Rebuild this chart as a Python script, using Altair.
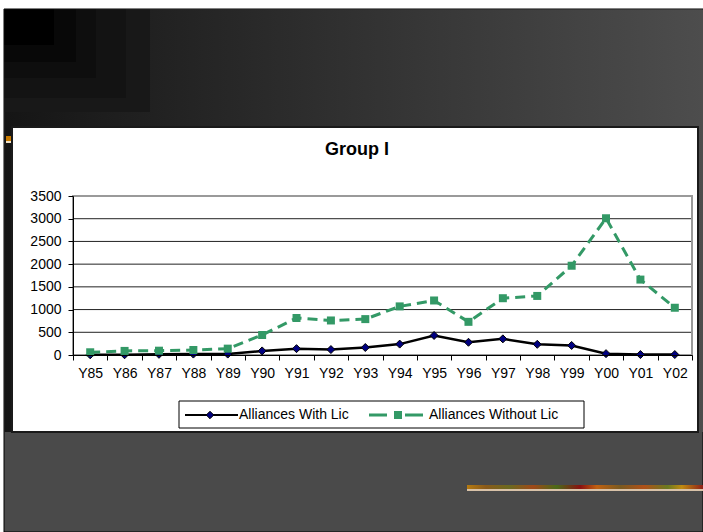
import altair as alt
import pandas as pd

# ---- data -------------------------------------------------------------
years = ["Y85", "Y86", "Y87", "Y88", "Y89", "Y90", "Y91", "Y92", "Y93",
         "Y94", "Y95", "Y96", "Y97", "Y98", "Y99", "Y00", "Y01", "Y02"]
with_lic = [5, 5, 15, 20, 20, 90, 140, 120, 165, 240, 430, 280, 355, 235,
            210, 30, 10, 10]
without_lic = [60, 90, 95, 110, 140, 440, 815, 760, 790, 1070, 1200, 730,
               1250, 1300, 1965, 3010, 1660, 1040]
y_ticks = [0, 500, 1000, 1500, 2000, 2500, 3000, 3500]
series_names = ["Alliances With Lic", "Alliances Without Lic"]

df_with = pd.DataFrame({"year": years, "value": with_lic})
df_without = pd.DataFrame({"year": years, "value": without_lic})
df_grid = pd.DataFrame({"value": y_ticks[1:]})

# ---- layout (page pixels) ---------------------------------------------
X0, Y0 = 73, 196          # top-left corner of the plot area
W, H = 619, 159           # plot area size
PAGE_W, PAGE_H = 703, 532
FONT = "Liberation Sans"


def px(x):
    return x - X0


def py(y):
    return y - Y0


one = pd.DataFrame({"k": [0]})


def box(x1, y1, x2, y2, **kw):
    return alt.Chart(one).mark_rect(**kw).encode(
        x=alt.value(px(x1)), x2=alt.value(px(x2)),
        y=alt.value(py(y1)), y2=alt.value(py(y2)),
    )


def hgrad(stops):
    return alt.LinearGradient(
        gradient="linear",
        stops=[alt.GradientStop(offset=o, color=c) for o, c in stops],
        x1=0, x2=1, y1=0, y2=0,
    )


# ---- slide background ---------------------------------------------------
bg = box(4, 9, PAGE_W, PAGE_H, fill="#4a4a4a", stroke="#000000", strokeWidth=1)
bg_top = box(4.5, 9.5, PAGE_W, 432,
             fill=hgrad([(0, "#151515"), (0.5, "#313131"), (1, "#4d4d4d")]))
squares = [
    box(4.5, 9.5, 150, 112, fill="#181818"),
    box(4.5, 9.5, 126, 98, fill="#131313"),
    box(4.5, 9.5, 96, 78, fill="#0e0e0e"),
    box(4.5, 9.5, 76, 62, fill="#080808"),
    box(4.5, 9.5, 54, 45, fill="#000000"),
]
accent = box(6, 136, 12, 141, fill="#c87a00")
accent_line = box(6, 141, 12, 143, fill="#f2e4c8")
strip = box(467, 485, PAGE_W, 489, fill=hgrad([
    (0.00, "#b57a10"), (0.08, "#8a5a1a"), (0.18, "#6b6a20"),
    (0.28, "#a04818"), (0.38, "#4a6a18"), (0.48, "#8a1010"),
    (0.55, "#c06010"), (0.65, "#7a5a20"), (0.75, "#b05018"),
    (0.85, "#6a7a20"), (0.91, "#c08a10"), (1.00, "#902018"),
]))
strip_line = box(467, 489, PAGE_W, 491, fill="#d8c2a8")

# ---- chart panel ----------------------------------------------------------
panel = box(12, 127, 698, 432, fill="white", stroke="#1a1a1a", strokeWidth=2)

title = alt.Chart(one).mark_text(
    text="Group I", font=FONT, fontSize=18, fontWeight="bold",
    align="center", baseline="alphabetic", color="black",
).encode(x=alt.value(px(357)), y=alt.value(py(155)))

# ---- scales / axes --------------------------------------------------------
x_enc = alt.X(
    "year:N", sort=years, bandPosition=0.5,
    scale=alt.Scale(type="band", domain=years, paddingInner=0, paddingOuter=0),
    axis=alt.Axis(
        title=None, labelAngle=0, tickBand="extent", tickSize=5,
        tickColor="black", domainColor="black", grid=False,
        labelFont=FONT, labelFontSize=14, labelColor="black",
        labelPadding=6, labelOverlap=False, zindex=1,
    ),
)
y_enc = alt.Y(
    "value:Q",
    scale=alt.Scale(domain=[0, 3500], nice=False, zero=True),
    axis=alt.Axis(
        title=None, values=y_ticks, grid=False, tickSize=5,
        tickColor="black", domainColor="black", format="d",
        labelFont=FONT, labelFontSize=14, labelColor="black",
        labelPadding=7, zindex=1,
    ),
)

grid = alt.Chart(df_grid).mark_rule(color="#222222", strokeWidth=1).encode(
    y=y_enc, x=alt.value(0), x2=alt.value("width"),
)
frame = alt.Chart(one).mark_rect(
    fillOpacity=0, stroke="#9a9a9a", strokeWidth=2,
).encode(x=alt.value(0), x2=alt.value("width"),
         y=alt.value(0), y2=alt.value("height"))

GREEN = "#339966"
NAVY = "#000080"

line_with = alt.Chart(df_with).mark_line(
    color="black", strokeWidth=2.5,
).encode(x=x_enc, y=y_enc)
pts_with = alt.Chart(df_with).mark_point(
    shape="diamond", filled=True, size=64, fill=NAVY, stroke="black",
    strokeWidth=1, opacity=1,
).encode(x=x_enc, y=y_enc)

line_without = alt.Chart(df_without).mark_line(
    color=GREEN, strokeWidth=3, strokeDash=[10, 6], strokeCap="butt",
).encode(x=x_enc, y=y_enc)
pts_without = alt.Chart(df_without).mark_point(
    shape="square", filled=True, size=64, fill=GREEN, stroke=GREEN,
    strokeWidth=0, opacity=1,
).encode(x=x_enc, y=y_enc)

# ---- legend ---------------------------------------------------------------
LEG_Y = 415
legend_box = box(179, 401, 584, 428, fill="white", stroke="black", strokeWidth=1)
leg_line1 = alt.Chart(one).mark_rule(color="black", strokeWidth=2).encode(
    x=alt.value(px(185)), x2=alt.value(px(238)), y=alt.value(py(LEG_Y)))
leg_pt1 = alt.Chart(one).mark_point(
    shape="diamond", filled=True, size=56, fill=NAVY, stroke="black",
    strokeWidth=1, opacity=1,
).encode(x=alt.value(px(210)), y=alt.value(py(LEG_Y)))
leg_line2 = alt.Chart(one).mark_rule(
    color=GREEN, strokeWidth=3, strokeDash=[18, 18], strokeCap="butt",
).encode(x=alt.value(px(369)), x2=alt.value(px(425)), y=alt.value(py(LEG_Y)))
leg_pt2 = alt.Chart(one).mark_point(
    shape="square", filled=True, size=64, fill=GREEN, strokeWidth=0, opacity=1,
).encode(x=alt.value(px(398)), y=alt.value(py(LEG_Y)))
leg_txt1 = alt.Chart(one).mark_text(
    text=series_names[0], font=FONT, fontSize=14, align="left",
    baseline="middle", color="black",
).encode(x=alt.value(px(239)), y=alt.value(py(LEG_Y)))
leg_txt2 = alt.Chart(one).mark_text(
    text=series_names[1], font=FONT, fontSize=14, align="left",
    baseline="middle", color="black",
).encode(x=alt.value(px(429)), y=alt.value(py(LEG_Y)))

chart = alt.layer(
    bg, bg_top, *squares, accent, accent_line, strip, strip_line,
    panel, title, grid, frame,
    line_with, pts_with, line_without, pts_without,
    legend_box, leg_line1, leg_pt1, leg_line2, leg_pt2, leg_txt1, leg_txt2,
).properties(
    width=W, height=H,
    padding={"left": X0, "top": Y0, "right": PAGE_W - X0 - W,
             "bottom": PAGE_H - Y0 - H},
    autosize=alt.AutoSizeParams(type="none"),
).configure(
    background="white",
).configure_view(
    stroke=None,
)

chart.save("out.html", embed_options={"renderer": "svg", "actions": False})
